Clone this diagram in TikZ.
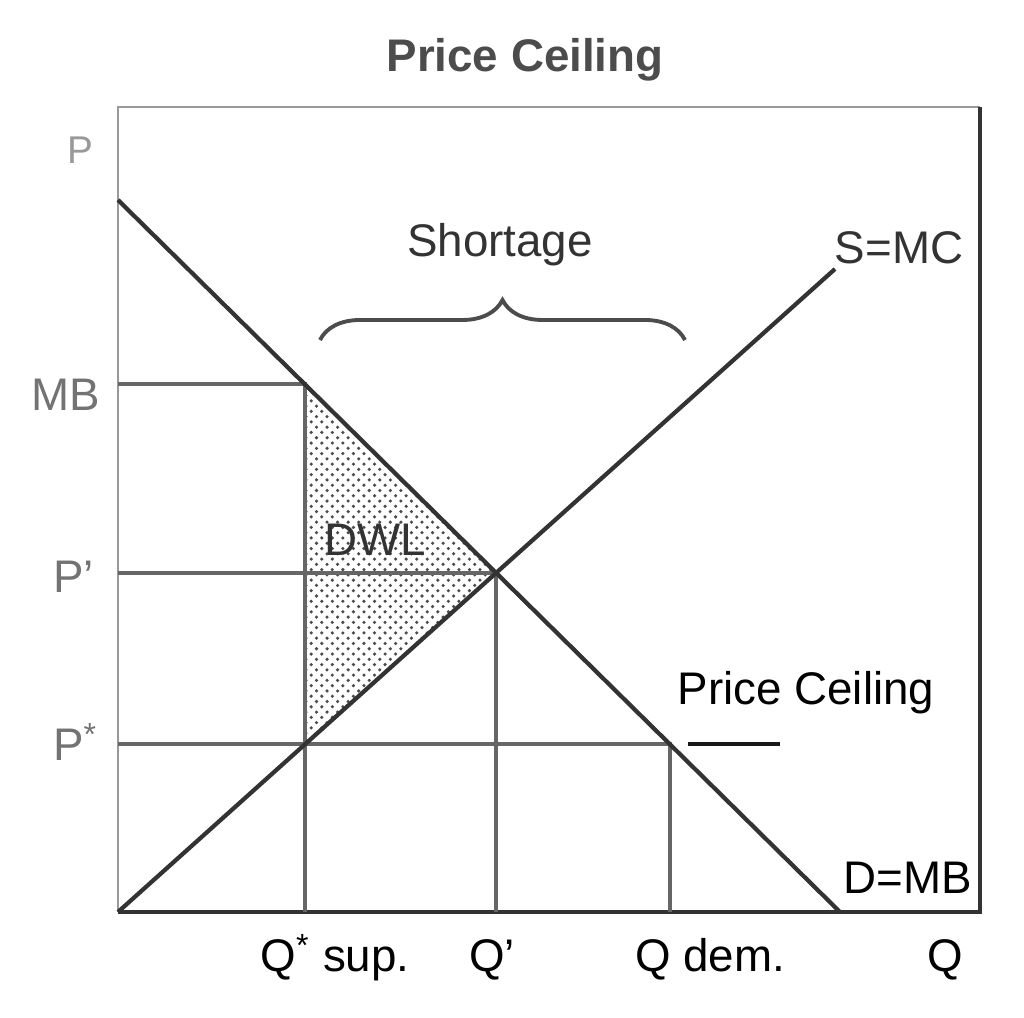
\documentclass[tikz,border=0pt]{standalone}
\usepackage{fontspec}
\setmainfont{Liberation Sans}
\usetikzlibrary{patterns,decorations.pathreplacing}
\tikzset{
  frameln/.style = {black!40, line width=0.8pt},
  axisln/.style  = {black!80, line width=1.2pt},
  guideln/.style = {black!60, line width=0.9pt},
  curveln/.style = {black!80, line width=1.2pt},
  ceilln/.style  = {black!90, line width=1.4pt},
  braceln/.style = {black!70, line width=1.1pt},
  dwlfill/.style = {pattern=crosshatch dots, pattern color=black!70},
  lbl/.style     = {font=\fontsize{13}{15}\selectfont, inner sep=1pt},
  axlbl/.style   = {lbl, black!55, anchor=east}
}

\begin{document}
\begin{tikzpicture}[x=0.01cm,y=0.01cm]
  \useasboundingbox (-118,-106) rectangle (906,912);
  % key points of the market
  \coordinate (O)    at (0,0);
  \coordinate (Dtop) at (0,712);
  \coordinate (Dbot) at (722,0);
  \coordinate (Stop) at (717,643);
  \coordinate (E)    at (378,339);
  \coordinate (MBpt) at (187,528);
  \coordinate (Spt)  at (187,168);
  \coordinate (Qd)   at (552,168);
  \coordinate (Cl)   at (570,168);
  \coordinate (Cr)   at (662,168);
  % deadweight loss
  \fill[dwlfill] (MBpt) -- (E) -- (Spt) -- cycle;
  % frame and axes
  \draw[frameln] (O) -- (0,805) -- (862,805);
  \draw[axisln] (O) -- (862,0) -- (862,805);
  % guide lines
  \draw[guideln] (0,528) -- (MBpt) -- (187,0);
  \draw[guideln] (0,339) -- (E) -- (378,0);
  \draw[guideln] (0,168) -- (Qd) -- (552,0);
  \draw[ceilln] (Cl) -- (Cr);
  % demand and supply
  \draw[curveln] (Dtop) -- (Dbot);
  \draw[curveln] (O) -- (Stop);
  % shortage brace
  \draw[braceln, decorate, decoration={brace, amplitude=4mm}] (202,572) -- (567,572);
  % labels
  \node[lbl, font=\fontsize{13}{15}\selectfont\bfseries, black!70] (title) at (407,852) {Price Ceiling};
  \node[lbl, black!80] (shortage) at (382,667) {Shortage};
  \node[lbl, black!80] (smc)  at (781,664) {S=MC};
  \node[lbl] (ceil) at (688,219) {Price Ceiling};
  \node[lbl] (dmb)  at (790,34) {D=MB};
  \node[lbl, black!80] (dwl) at (257,372) {DWL};
  \node[lbl, anchor=base] (qsup) at (217,-60) {Q\textsuperscript{*} sup.};
  \node[lbl, anchor=base] (qeq)  at (374,-60) {Q’};
  \node[lbl, anchor=base] (qdem) at (592,-60) {Q dem.};
  \node[lbl, anchor=base] (qax)  at (827,-60) {Q};
  \node[axlbl, black!40, font=\fontsize{11}{13}\selectfont] (pax) at (-20,762) {P};
  \node[axlbl] (pmb)   at (-14,517) {MB};
  \node[axlbl] (peq)   at (-20,335) {P’};
  \node[axlbl] (pstar) at (-16,170) {P\textsuperscript{*}};
\end{tikzpicture}
\end{document}
